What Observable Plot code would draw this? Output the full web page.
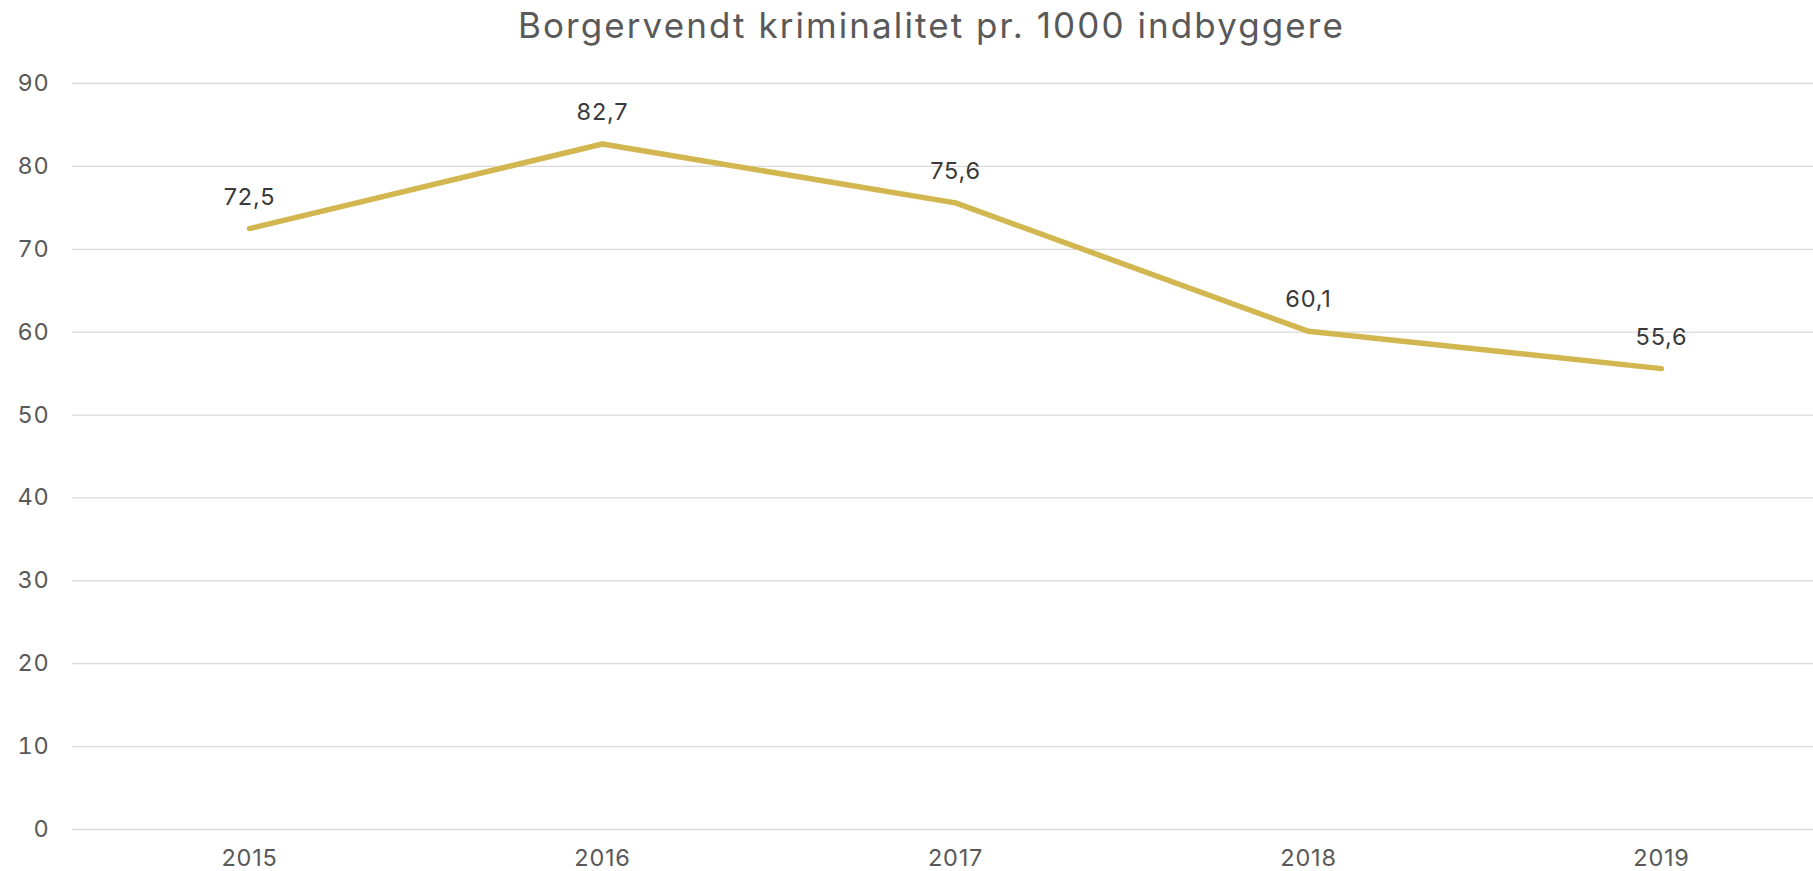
<!DOCTYPE html>
<html>
<head>
<meta charset="utf-8">
<script src="https://cdn.jsdelivr.net/npm/d3@7"></script>
<script src="https://cdn.jsdelivr.net/npm/@observablehq/plot@0.6"></script>
<style>
  html, body { margin: 0; padding: 0; background: #ffffff; }
  #wrap { width: 1813px; height: 871px; position: relative; overflow: hidden; }
  #title {
    position: absolute; left: 0; top: 0; width: 1813px; height: 60px;
  }
  #title span {
    position: absolute; left: 518px; top: 0; line-height: 51px;
    font-family: Inter, Lato, sans-serif; font-size: 35px; color: #595959; white-space: nowrap;
  }
  #chart { position: absolute; left: 0; top: 60px; }
</style>
</head>
<body>
<div id="wrap">
  <div id="title"><span id="titleText">Borgervendt kriminalitet pr. 1000 indbyggere</span></div>
  <div id="chart"></div>
</div>
<script>
const years = ["2015", "2016", "2017", "2018", "2019"];
const values = [72.5, 82.7, 75.6, 60.1, 55.6];
const valueLabels = ["72,5", "82,7", "75,6", "60,1", "55,6"];
const yTicks = [0, 10, 20, 30, 40, 50, 60, 70, 80, 90];

const data = years.map((y, i) => ({year: y, value: values[i], label: valueLabels[i]}));

// fit title width to the reference span (518..1345)
const t = document.getElementById("titleText");
const w = t.getBoundingClientRect().width;
const n = t.textContent.length;
t.style.letterSpacing = ((827 - w) / n) + "px";

const font = "Inter, Lato, sans-serif";
const chart = Plot.plot({
  width: 1813,
  height: 811,
  marginLeft: 72,
  marginRight: 0,
  marginTop: 23,
  marginBottom: 42,
  style: {fontFamily: font, background: "#ffffff", letterSpacing: "0.8px"},
  x: {type: "point", domain: years, range: [248, 1661], padding: 0, label: null},
  y: {domain: [0, 90], ticks: yTicks, label: null},
  marks: [
    Plot.ruleY(yTicks, {stroke: "#d9d9d9", strokeWidth: 1.3}),
    Plot.axisY({ticks: yTicks, tickSize: 0, tickPadding: 23, fontSize: 23.5, color: "#595959", label: null, tickFormat: d => String(d)}),
    Plot.axisX({tickSize: 0, tickPadding: 20, fontSize: 23.5, color: "#595959", label: null}),
    Plot.line(data, {x: "year", y: "value", stroke: "#d2b64f", strokeWidth: 5.5, strokeLinecap: "round", strokeLinejoin: "round"}),
    Plot.text(data, {x: "year", y: "value", text: "label", dy: -24, lineAnchor: "bottom", textAnchor: "middle", fontSize: 23.5, fill: "#3a3a3a"})
  ]
});
document.getElementById("chart").appendChild(chart);
</script>
</body>
</html>
